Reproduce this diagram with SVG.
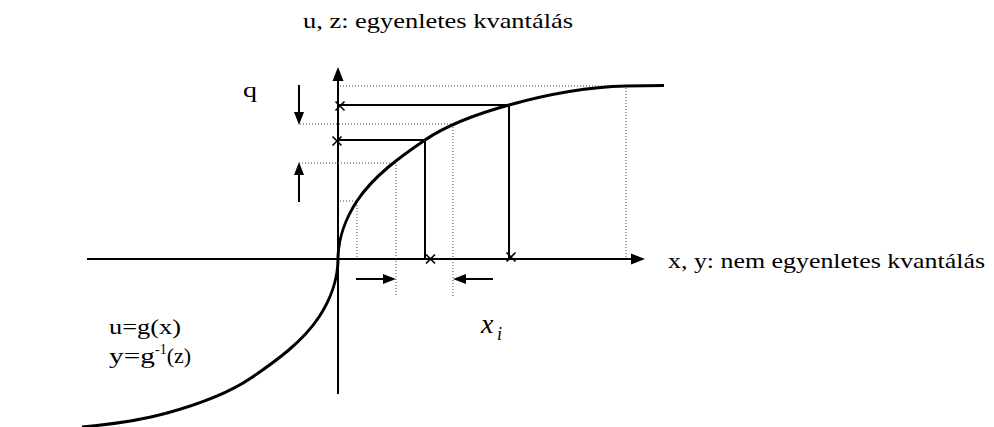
<svg xmlns="http://www.w3.org/2000/svg" width="994" height="427" viewBox="0 0 994 427">
<style>
.t{font-family:'Liberation Serif','DejaVu Serif',serif;font-size:22px;fill:#000}
.ax{stroke:#000;stroke-width:2;fill:none}
.sl{stroke:#000;stroke-width:2;fill:none}
.dt{stroke:#444;stroke-width:1;stroke-dasharray:1 2;fill:none}
.cv{stroke:#000;stroke-width:3;fill:none}
.xm{stroke:#000;stroke-width:1.6;fill:none}
.ah{fill:#000}
</style>
<rect width="994" height="427" fill="#fff"/>
<g id="axes">
<line class="ax" x1="87" y1="259" x2="632" y2="259"/>
<polygon class="ah" points="645,259 631,253.5 631,264.5"/>
<line class="ax" x1="338" y1="80" x2="338" y2="394"/>
<polygon class="ah" points="338,67 332.5,81 343.5,81"/>
</g>
<g id="guides">
<polyline class="dt" points="340,86 626,86 626,259"/>
<polyline class="dt" points="300,124 453,124 453,296"/>
<polyline class="dt" points="299,163 396,163 396,297"/>
<polyline class="dt" points="340,201 357,201 357,259"/>
</g>
<g id="levels">
<polyline class="sl" points="338,105 509,105 509,259"/>
<polyline class="sl" points="338,140 425,140 425,259"/>
</g>
<g id="curve">
<path class="cv" d="M82,427 C110,424.5 140,420.6 167,413 C196,405 226,395 251,378 C276,361 302.5,342 319,317 C330,300.4 338,279 338,259 C338,239 346,217.6 357,201 C373.5,176 400,157 425,140 C450,123 480,113 509,105 C546.4,94.5 587,87 626,86 L664,85.5"/>
</g>
<g id="marks">
<path class="xm" d="M335.5,101.5 L344.5,110.5 M344.5,101.5 L335.5,110.5"/>
<path class="xm" d="M332.5,136.5 L341.5,145.5 M341.5,136.5 L332.5,145.5"/>
<path class="xm" d="M426,254.5 L435,263.5 M435,254.5 L426,263.5"/>
<path class="xm" d="M506.5,252.5 L515.5,261.5 M515.5,252.5 L506.5,261.5"/>
</g>
<g id="q-arrows">
<line class="sl" x1="299" y1="85" x2="299" y2="113"/>
<polygon class="ah" points="299,125 294,112 304,112"/>
<line class="sl" x1="299" y1="202" x2="299" y2="174"/>
<polygon class="ah" points="299,162 294,175 304,175"/>
</g>
<g id="x-arrows">
<line class="sl" x1="356" y1="279" x2="384" y2="279"/>
<polygon class="ah" points="396,279 383,274 383,284"/>
<line class="sl" x1="493" y1="279" x2="465" y2="279"/>
<polygon class="ah" points="453,279 466,274 466,284"/>
</g>
<g id="labels" font-family="'Liberation Serif','DejaVu Serif',serif">
<text class="t" x="303" y="28" textLength="270" lengthAdjust="spacingAndGlyphs">u, z: egyenletes kvantálás</text>
<text class="t" x="668" y="268" textLength="317" lengthAdjust="spacingAndGlyphs">x, y: nem egyenletes kvantálás</text>
<text class="t" x="243" y="97" textLength="14" lengthAdjust="spacingAndGlyphs">q</text>
<text class="t" x="109" y="334" textLength="72" lengthAdjust="spacingAndGlyphs">u=g(x)</text>
<text class="t" x="109" y="363"><tspan textLength="46" lengthAdjust="spacingAndGlyphs">y=g</tspan><tspan style="font-size:14px" dy="-9">-1</tspan><tspan dy="9">(z)</tspan></text>
<text class="t" x="481" y="333" style="font-size:28px;font-style:italic">x</text>
<text class="t" x="497" y="340" style="font-size:18px;font-style:italic">i</text>
</g>
</svg>
